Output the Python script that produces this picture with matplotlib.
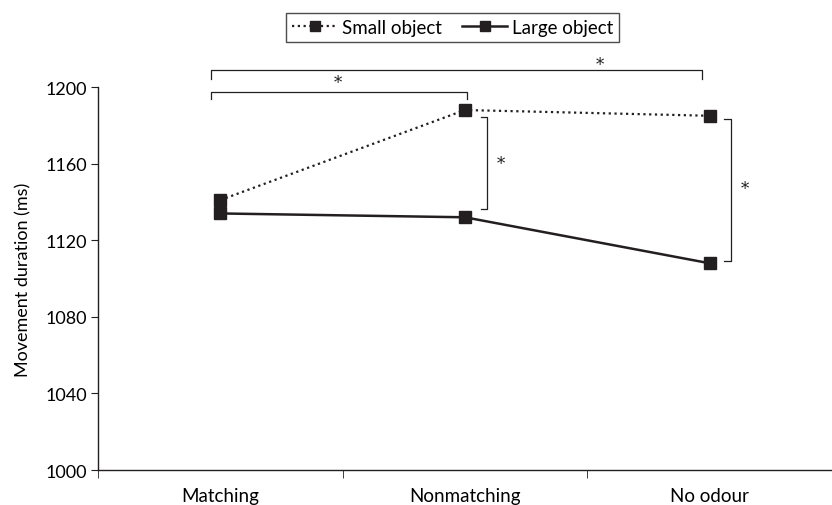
import matplotlib
matplotlib.use("Agg")
import matplotlib.pyplot as plt

categories = ["Matching", "Nonmatching", "No odour"]
small_object = [1141, 1188, 1185]
large_object = [1134, 1132, 1108]
yticks = [1000, 1040, 1080, 1120, 1160, 1200]

plt.rcParams['font.family'] = ['Lato', 'DejaVu Sans']
col = '#231f20'

fig = plt.figure(figsize=(8.32, 5.06), dpi=100)
ax = fig.add_axes([0.1178, 0.069, 0.882, 0.757])
x = list(range(len(categories)))
ax.plot(x, small_object, linestyle=(0, (1, 1.6)), color=col, lw=1.6, marker='s',
        markersize=9, label='Small object', zorder=3)
ax.plot(x, large_object, linestyle='-', color=col, lw=1.8, marker='s',
        markersize=9, label='Large object', zorder=3)

ax.set_xlim(-0.5, 2.5)
ax.set_ylim(1000, 1200)
ax.set_yticks(yticks)
ax.set_xticks(x)
ax.set_xticklabels(categories, fontsize=13.5)
ax.tick_params(axis='x', length=0, pad=12)
ax.set_xticks([-0.5, 0.5, 1.5, 2.5], minor=True)
ax.tick_params(axis='x', which='minor', length=6, direction='out', color=col)
ax.tick_params(axis='y', length=5, direction='out', labelsize=13, color=col, pad=3)
for s in ['top', 'right']:
    ax.spines[s].set_visible(False)
for s in ['left', 'bottom']:
    ax.spines[s].set_color(col)
    ax.spines[s].set_linewidth(1.0)
ax.set_ylabel('Movement duration (ms)', fontsize=13, labelpad=10)

def hbracket(x0, x1, ytop, yend):
    ax.plot([x0, x0, x1, x1], [yend, ytop, ytop, yend], color=col, lw=0.9,
            clip_on=False, solid_joinstyle='round')

def vbracket(xv, xarm, y0, y1):
    ax.plot([xarm, xv, xv, xarm], [y0, y0, y1, y1], color=col, lw=0.9,
            clip_on=False, solid_joinstyle='round')

hbracket(-0.04, 1.97, 1209, 1204)
hbracket(-0.04, 1.01, 1197.5, 1193.7)
vbracket(1.09, 1.065, 1184.3, 1136.3)
vbracket(2.086, 2.06, 1183.3, 1109)
star_kw = dict(ha='center', va='center', fontsize=12, color=col,
               family=['DejaVu Serif'], clip_on=False)
ax.text(1.55, 1212, '*', **star_kw)
ax.text(0.48, 1202.5, '*', **star_kw)
ax.text(1.147, 1160, '*', **star_kw)
ax.text(2.143, 1147, '*', **star_kw)

leg = fig.legend(loc='upper center', bbox_to_anchor=(0.544, 0.99), ncol=2,
                 fontsize=13.5, frameon=True, fancybox=False, handlelength=2.4,
                 handletextpad=0.25, columnspacing=1.1, borderpad=0.3,
                 markerscale=0.85)
leg.get_frame().set_edgecolor(col)
leg.get_frame().set_linewidth(1.0)

fig.savefig('out.png', dpi=100)
